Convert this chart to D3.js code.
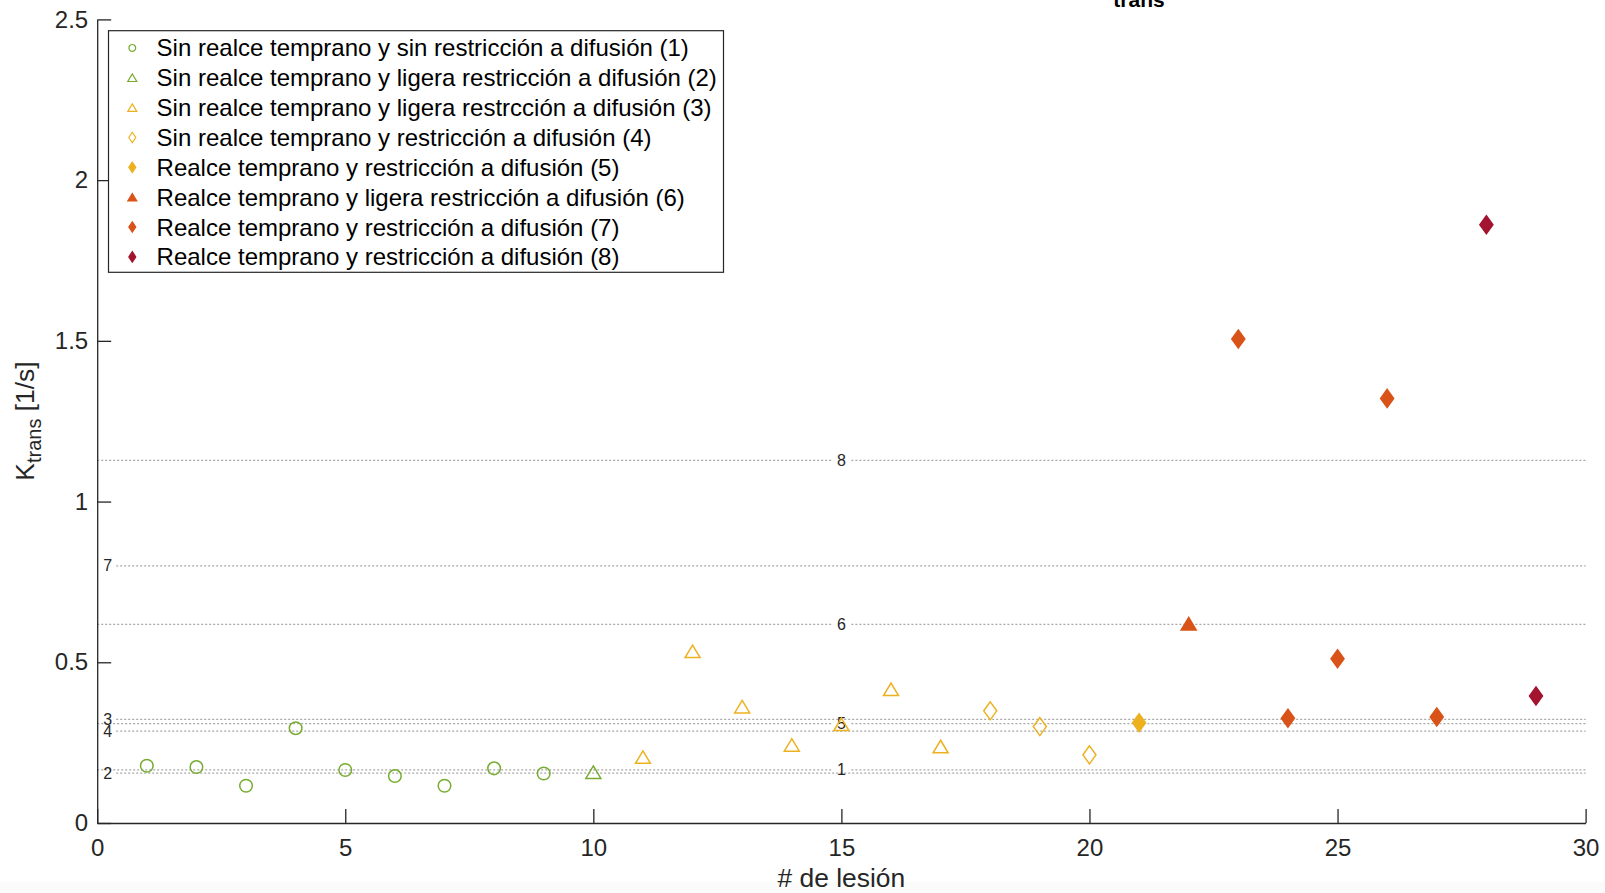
<!DOCTYPE html>
<html>
<head>
<meta charset="utf-8">
<script src="https://cdn.jsdelivr.net/npm/d3@7"></script>
<style>
  html, body { margin: 0; padding: 0; background: #fff; }
  svg { display: block; }
</style>
</head>
<body>
<script>
// lesion number, group and Ktrans value
var lesion = [1, 2, 3, 4, 5, 6, 7, 8, 9, 10, 11, 12, 13, 14, 15, 16, 17, 18, 19, 20, 21, 22, 23, 24, 25, 26, 27, 28, 29];
var lesionGroup = [1, 1, 1, 1, 1, 1, 1, 1, 1, 2, 3, 3, 3, 3, 3, 3, 3, 4, 4, 4, 5, 6, 7, 7, 7, 7, 7, 8, 8];
var ktrans = [0.178, 0.174, 0.116, 0.295, 0.165, 0.146, 0.116, 0.170, 0.154, 0.158,
              0.205, 0.534, 0.362, 0.243, 0.307, 0.416, 0.238, 0.349, 0.300, 0.212,
              0.312, 0.620, 1.506, 0.326, 0.511, 1.321, 0.330, 1.861, 0.395];

var groupNames = [
    "Sin realce temprano y sin restricción a difusión (1)",
    "Sin realce temprano y ligera restricción a difusión (2)",
    "Sin realce temprano y ligera restrcción a difusión (3)",
    "Sin realce temprano y restricción a difusión (4)",
    "Realce temprano y restricción a difusión (5)",
    "Realce temprano y ligera restricción a difusión (6)",
    "Realce temprano y restricción a difusión (7)",
    "Realce temprano y restricción a difusión (8)"
];
var groupColors = ["#77AC30", "#77AC30", "#EDB120", "#EDB120", "#EDB120", "#D95319", "#D95319", "#A2142F"];
var groupShapes = ["circle", "triangle", "triangle", "diamond", "diamond", "triangle", "diamond", "diamond"];
var groupFilled = [false, false, false, false, true, true, true, true];

// dotted reference levels (one per group) and where their labels sit
var levelLabels = ["1", "2", "3", "4", "5", "6", "7", "8"];
var levelValues = [0.165, 0.155, 0.3226, 0.286, 0.309, 0.618, 0.800, 1.128];
var levelAlign = ["center", "left", "left", "left", "center", "center", "left", "center"];

var xTicks = [0, 5, 10, 15, 20, 25, 30];
var yTicks = [0, 0.5, 1, 1.5, 2, 2.5];

var W = 1605, H = 893;
var font = "'Liberation Sans', Arial, Helvetica, sans-serif";
var ink = "#262626";

var svg = d3.select("body").append("svg")
    .attr("width", W)
    .attr("height", H);

var x = d3.scaleLinear().domain([0, 30]).range([97.2, 1585.6]);
var y = d3.scaleLinear().domain([0, 2.5]).range([823, 19.4]);

// faint band along the bottom edge
svg.append("rect")
    .attr("x", 0).attr("y", 882)
    .attr("width", W).attr("height", H - 882)
    .attr("fill", "#fbfbfb");

// marker paths, bounding box centred on the point
function markerPath(shape, big) {
    if (shape == "circle") {
        var r = big ? 6.3 : 3.4;
        return "M" + r + ",0A" + r + "," + r + " 0 1,1 " + (-r) + ",0A" + r + "," + r + " 0 1,1 " + r + ",0Z";
    }
    if (shape == "triangle") {
        var w = big ? 15 : 9, h = big ? 12.5 : 7.5;
        return "M0," + (-h / 2) + "L" + (w / 2) + "," + (h / 2) + "L" + (-w / 2) + "," + (h / 2) + "Z";
    }
    var dw = big ? 13 : 7, dh = big ? 18 : 10.5;
    return "M0," + (-dh / 2) + "L" + (dw / 2) + ",0L0," + (dh / 2) + "L" + (-dw / 2) + ",0Z";
}

// reference levels
var levels = svg.append("g");
for (var i = 0; i < levelValues.length; ++i) {
    var ly = y(levelValues[i]);
    var segs;
    if (levelAlign[i] == "center") {
        segs = [[x(0), x(15) - 10], [x(15) + 10, x(30)]];
    } else {
        segs = [[x(0) + 19, x(30)]];
    }
    segs.forEach(function (s) {
        levels.append("line")
            .attr("x1", s[0]).attr("x2", s[1])
            .attr("y1", ly).attr("y2", ly)
            .attr("stroke", "#a8a8a8")
            .attr("stroke-width", 1.2)
            .attr("stroke-dasharray", "2,2");
    });
}
for (var i = 0; i < levelValues.length; ++i) {
    var isCenter = levelAlign[i] == "center";
    levels.append("text")
        .text(levelLabels[i])
        .attr("x", isCenter ? x(15) : x(0) + 6)
        .attr("y", y(levelValues[i]))
        .attr("dominant-baseline", "central")
        .attr("text-anchor", isCenter ? "middle" : "start")
        .attr("font-family", font)
        .attr("font-size", "16px")
        .attr("fill", ink);
}

// axes
var xAxis = d3.axisBottom(x).tickValues(xTicks).tickSizeInner(-14).tickSizeOuter(0).tickPadding(16);
var yAxis = d3.axisLeft(y).tickValues(yTicks).tickSizeInner(-14).tickSizeOuter(0).tickPadding(9)
    .tickFormat(d3.format("~g"));

var gx = svg.append("g")
    .attr("transform", "translate(0," + y(0) + ")")
    .call(xAxis);
var gy = svg.append("g")
    .attr("transform", "translate(" + x(0) + ",0)")
    .call(yAxis);

[gx, gy].forEach(function (g) {
    g.select(".domain").attr("stroke", ink).attr("stroke-width", 1.3);
    g.selectAll(".tick line").attr("stroke", ink).attr("stroke-width", 1.3);
    g.selectAll(".tick text")
        .attr("fill", ink)
        .attr("font-family", font)
        .attr("font-size", "24px");
});

// points
svg.append("g").selectAll("path")
    .data(lesion)
    .join("path")
    .attr("transform", function (d, i) { return "translate(" + x(d) + "," + y(ktrans[i]) + ")"; })
    .attr("d", function (d, i) { return markerPath(groupShapes[lesionGroup[i] - 1], true); })
    .attr("fill", function (d, i) {
        var g = lesionGroup[i] - 1;
        return groupFilled[g] ? groupColors[g] : "none";
    })
    .attr("stroke", function (d, i) { return groupColors[lesionGroup[i] - 1]; })
    .attr("stroke-width", 1.5)
    .attr("stroke-linejoin", "miter");

// axis titles
svg.append("text")
    .text("# de lesión")
    .attr("x", x(15))
    .attr("y", 887)
    .attr("text-anchor", "middle")
    .attr("font-family", font)
    .attr("font-size", "26.4px")
    .attr("fill", ink);

var ylab = svg.append("text")
    .attr("transform", "translate(34,421) rotate(-90)")
    .attr("text-anchor", "middle")
    .attr("font-family", font)
    .attr("font-size", "26.4px")
    .attr("fill", ink);
ylab.append("tspan").text("K");
ylab.append("tspan").text("trans").attr("font-size", "20px").attr("dy", 7);
ylab.append("tspan").text(" [1/s]").attr("dy", -7);

// title, only its subscript shows above the frame
svg.append("text")
    .text("trans")
    .attr("x", 1139)
    .attr("y", 7)
    .attr("text-anchor", "middle")
    .attr("font-family", font)
    .attr("font-weight", "bold")
    .attr("font-size", "21px")
    .attr("fill", "#000");

// legend
var legend = svg.append("g");
legend.append("rect")
    .attr("x", 108.5).attr("y", 30.7)
    .attr("width", 615).attr("height", 241.6)
    .attr("fill", "#fff")
    .attr("stroke", ink)
    .attr("stroke-width", 1.2);

var rowY = d3.scaleLinear().domain([0, 7]).range([47.9, 256.9]);
for (var g = 0; g < groupNames.length; ++g) {
    legend.append("path")
        .attr("transform", "translate(132.3," + rowY(g) + ")")
        .attr("d", markerPath(groupShapes[g], false))
        .attr("fill", groupFilled[g] ? groupColors[g] : "none")
        .attr("stroke", groupColors[g])
        .attr("stroke-width", 1.2);
    legend.append("text")
        .text(groupNames[g])
        .attr("x", 156.6)
        .attr("y", rowY(g))
        .attr("dominant-baseline", "central")
        .attr("font-family", font)
        .attr("font-size", "24px")
        .attr("fill", "#000");
}
</script>
</body>
</html>
